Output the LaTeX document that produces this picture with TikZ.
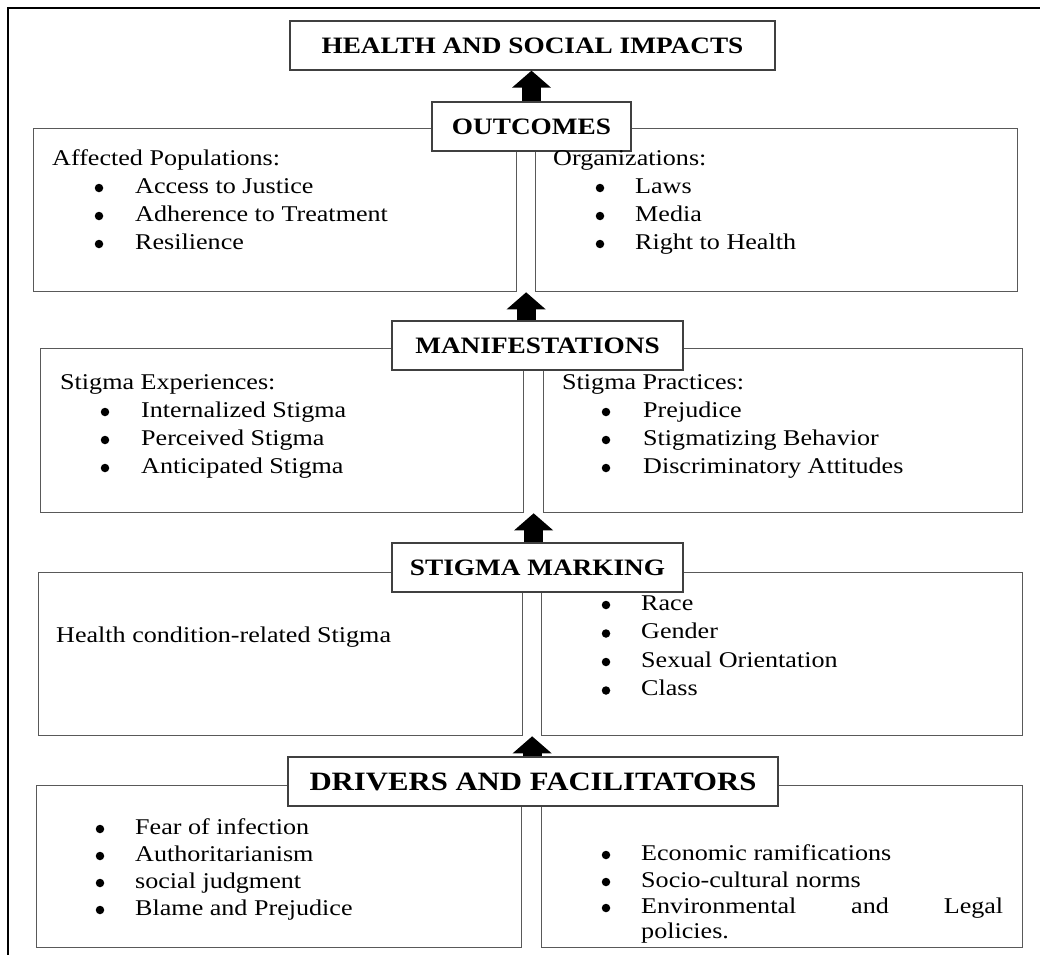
\documentclass[tikz,border=0pt]{standalone}
\usepackage{fontspec}
\setmainfont{Liberation Serif}[FakeStretch=1.16]
\usetikzlibrary{arrows.meta,calc}
\newcommand\bodysize{\fontsize{22.5}{28}\selectfont}
\newcommand\headsize{\fontsize{23.5}{26}\selectfont}
\newcommand\bigheadsize{\fontsize{26.5}{29}\selectfont}

\begin{document}
\begin{tikzpicture}[x=1pt,y=-1pt,
  sidebox/.style={draw=black!65,line width=1.3pt,anchor=north west,inner sep=0,minimum height=163pt},
  headbox/.style={draw=black!75,line width=1.3pt,fill=white,inner sep=0,minimum height=49pt,font=\headsize\bfseries},
  txt/.style={anchor=base west,inner sep=0,font=\bodysize},
  dot/.style={circle,fill=black,inner sep=0,minimum size=8.5pt},
  blockarrow/.style={line width=19pt,-{Triangle[width=38pt,length=17pt]}}]
\useasboundingbox (0,0) rectangle (1040,955);
\draw[line width=1.6pt] (1040,8) -- (8,8) -- (8,955);

% side boxes
\node[sidebox,minimum width=483pt] (outL) at (33,128) {};
\node[sidebox,minimum width=482pt] (outR) at (535,128) {};
\node[sidebox,minimum width=483pt,minimum height=164pt] (manL) at (40,348) {};
\node[sidebox,minimum width=479pt,minimum height=164pt] (manR) at (543,348) {};
\node[sidebox,minimum width=484pt] (stgL) at (38,572) {};
\node[sidebox,minimum width=481pt] (stgR) at (541,572) {};
\node[sidebox,minimum width=485pt,minimum height=162pt] (drvL) at (36,785) {};
\node[sidebox,minimum width=481pt,minimum height=162pt] (drvR) at (541,785) {};

% headings
\node[headbox,minimum width=485pt] (health) at (532.5,45.5) {HEALTH AND SOCIAL IMPACTS};
\node[headbox,minimum width=199pt] (outcomes) at (531.5,126.5) {OUTCOMES};
\node[headbox,minimum width=291pt] (manifest) at (537.5,345.5) {MANIFESTATIONS};
\node[headbox,minimum width=291pt] (stigma) at (537.5,567.5) {STIGMA MARKING};
\node[headbox,minimum width=490pt,font=\bigheadsize\bfseries] (drivers) at (533,781.5) {DRIVERS AND FACILITATORS};

% arrows
\coordinate (gap1) at ($(outL.south east)!0.5!(outR.south west)$);
\coordinate (gap2) at ($(manL.south east)!0.5!(manR.south west)$);
\coordinate (gap3) at ($(stgL.south east)!0.5!(stgR.south west)$);
\draw[blockarrow] (outcomes.north) -- (outcomes.north |- health.south);
\draw[blockarrow] (gap1 |- manifest.north) -- (gap1);
\draw[blockarrow] (gap2 |- stigma.north) -- (gap2);
\draw[blockarrow] (gap3 |- drivers.north) -- (gap3);

% outcomes
\node[txt] (outLt) at (52,165) {Affected Populations:};
\foreach \txt [count=\i] in {Access to Justice,Adherence to Treatment,Resilience} {
  \node[dot] (outLb\i) at (99,160+28*\i) {};
  \node[txt] (outLi\i) at (135,165+28*\i) {\txt};
}
\node[txt] (outRt) at (553,165) {Organizations:};
\foreach \txt [count=\i] in {Laws,Media,Right to Health} {
  \node[dot] (outRb\i) at (600,160+28*\i) {};
  \node[txt] (outRi\i) at (635,165+28*\i) {\txt};
}

% manifestations
\node[txt] (manLt) at (60,389) {Stigma Experiences:};
\foreach \txt [count=\i] in {Internalized Stigma,Perceived Stigma,Anticipated Stigma} {
  \node[dot] (manLb\i) at (105,384+28*\i) {};
  \node[txt] (manLi\i) at (141,389+28*\i) {\txt};
}
\node[txt] (manRt) at (562,389) {Stigma Practices:};
\foreach \txt [count=\i] in {Prejudice,Stigmatizing Behavior,Discriminatory Attitudes} {
  \node[dot] (manRb\i) at (606,384+28*\i) {};
  \node[txt] (manRi\i) at (643,389+28*\i) {\txt};
}

% stigma marking
\node[txt] (stgLt) at (56,642) {Health condition-related Stigma};
\foreach \txt [count=\i] in {Race,Gender,Sexual Orientation,Class} {
  \node[dot] (stgRb\i) at (606,576.5+28.5*\i) {};
  \node[txt] (stgRi\i) at (641,581.5+28.5*\i) {\txt};
}

% drivers and facilitators
\foreach \txt [count=\i] in {Fear of infection,Authoritarianism,social judgment,Blame and Prejudice} {
  \node[dot] (drvLb\i) at (100,802+27*\i) {};
  \node[txt] (drvLi\i) at (135,807+27*\i) {\txt};
}
\foreach \txt [count=\i] in {Economic ramifications,Socio-cultural norms} {
  \node[dot] (drvRb\i) at (606,828+27*\i) {};
  \node[txt] (drvRi\i) at (641,833+27*\i) {\txt};
}
\node[dot] (drvRb3) at (606,908) {};
\node[txt] (drvRi3) at (641,913) {\hbox to 362pt{Environmental\hfill and\hfill Legal}};
\node[txt] (drvRi4) at (641,938) {policies.};
\end{tikzpicture}
\end{document}
